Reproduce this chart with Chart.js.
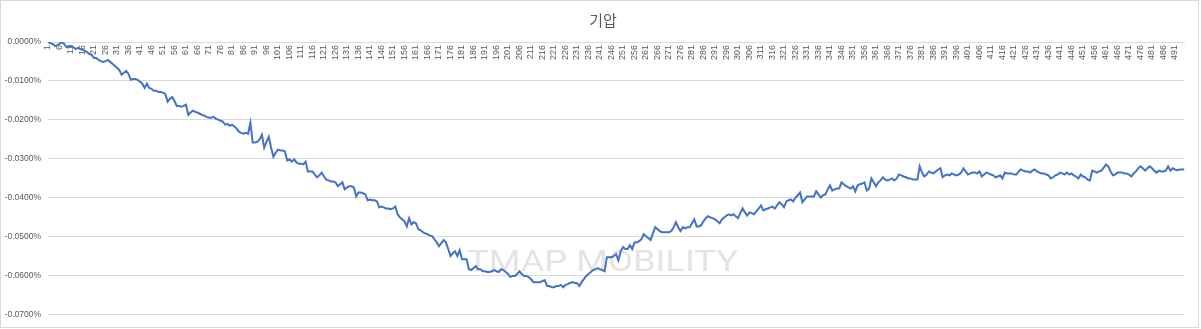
<!DOCTYPE html>
<html>
<head>
<meta charset="utf-8">
<script src="https://cdn.jsdelivr.net/npm/chart.js@4.4.1/dist/chart.umd.min.js"></script>
<style>
    body { margin: 0; background: #fff; }
    #wrap { position: absolute; left: 0; top: 0; width: 1197px; height: 326px; border: 1px solid #d9d9d9; }
    #pressureChart { display: block; }
</style>
</head>
<body>
<div id="wrap"><canvas id="pressureChart" width="1197" height="326"></canvas></div>
<script>
// 기압 변화율 (%), 1 ~ 495
const pressure = [
    0, -0.0003, -0.0005, -0.0010, -0.0008, -0.0005, 0.0000, -0.0005, -0.0013, -0.0010,
    -0.0010, -0.0013, -0.0018, -0.0015, -0.0018, -0.0020, -0.0023, -0.0026, -0.0031, -0.0033,
    -0.0041, -0.0041, -0.0046, -0.0049, -0.0051, -0.0049, -0.0046, -0.0051, -0.0056, -0.0061,
    -0.0066, -0.0072, -0.0084, -0.0079, -0.0074, -0.0082, -0.0097, -0.0095, -0.0095, -0.0097,
    -0.0102, -0.0107, -0.0118, -0.0107, -0.0118, -0.0120, -0.0125, -0.0125, -0.0128, -0.0128,
    -0.0130, -0.0133, -0.0153, -0.0146, -0.0141, -0.0151, -0.0164, -0.0164, -0.0166, -0.0164,
    -0.0161, -0.0187, -0.0181, -0.0176, -0.0179, -0.0181, -0.0184, -0.0187, -0.0189, -0.0192,
    -0.0194, -0.0194, -0.0192, -0.0197, -0.0199, -0.0202, -0.0204, -0.0212, -0.0210, -0.0215,
    -0.0212, -0.0217, -0.0222, -0.0230, -0.0233, -0.0235, -0.0233, -0.0235, -0.0207, -0.0258,
    -0.0258, -0.0256, -0.0250, -0.0238, -0.0271, -0.0256, -0.0243, -0.0271, -0.0294, -0.0284,
    -0.0276, -0.0278, -0.0278, -0.0281, -0.0304, -0.0301, -0.0307, -0.0301, -0.0309, -0.0312,
    -0.0312, -0.0314, -0.0307, -0.0332, -0.0332, -0.0332, -0.0340, -0.0347, -0.0342, -0.0335,
    -0.0345, -0.0353, -0.0355, -0.0358, -0.0358, -0.0360, -0.0370, -0.0365, -0.0360, -0.0378,
    -0.0373, -0.0370, -0.0370, -0.0373, -0.0396, -0.0386, -0.0386, -0.0388, -0.0391, -0.0406,
    -0.0404, -0.0406, -0.0406, -0.0409, -0.0424, -0.0422, -0.0424, -0.0427, -0.0427, -0.0429,
    -0.0427, -0.0422, -0.0442, -0.0450, -0.0455, -0.0460, -0.0473, -0.0452, -0.0468, -0.0462,
    -0.0465, -0.0480, -0.0483, -0.0488, -0.0491, -0.0493, -0.0496, -0.0498, -0.0506, -0.0514,
    -0.0524, -0.0516, -0.0508, -0.0514, -0.0531, -0.0549, -0.0542, -0.0537, -0.0549, -0.0534,
    -0.0557, -0.0557, -0.0557, -0.0583, -0.0585, -0.0580, -0.0575, -0.0583, -0.0583, -0.0588,
    -0.0588, -0.0590, -0.0590, -0.0588, -0.0585, -0.0588, -0.0590, -0.0583, -0.0585, -0.0590,
    -0.0595, -0.0603, -0.0600, -0.0600, -0.0595, -0.0588, -0.0595, -0.0600, -0.0600, -0.0603,
    -0.0608, -0.0616, -0.0616, -0.0616, -0.0616, -0.0613, -0.0611, -0.0626, -0.0626, -0.0629,
    -0.0629, -0.0626, -0.0626, -0.0623, -0.0629, -0.0623, -0.0621, -0.0618, -0.0616, -0.0618,
    -0.0618, -0.0626, -0.0616, -0.0608, -0.0600, -0.0595, -0.0590, -0.0585, -0.0583, -0.0580,
    -0.0583, -0.0585, -0.0588, -0.0552, -0.0552, -0.0552, -0.0549, -0.0544, -0.0560, -0.0537,
    -0.0526, -0.0531, -0.0531, -0.0521, -0.0531, -0.0514, -0.0514, -0.0511, -0.0506, -0.0493,
    -0.0498, -0.0503, -0.0508, -0.0491, -0.0475, -0.0480, -0.0485, -0.0488, -0.0488, -0.0488,
    -0.0488, -0.0485, -0.0475, -0.0462, -0.0475, -0.0485, -0.0475, -0.0478, -0.0475, -0.0475,
    -0.0465, -0.0455, -0.0473, -0.0473, -0.0470, -0.0460, -0.0452, -0.0447, -0.0450, -0.0452,
    -0.0455, -0.0460, -0.0465, -0.0455, -0.0450, -0.0445, -0.0442, -0.0445, -0.0442, -0.0447,
    -0.0452, -0.0439, -0.0427, -0.0437, -0.0445, -0.0437, -0.0439, -0.0442, -0.0434, -0.0427,
    -0.0419, -0.0432, -0.0429, -0.0427, -0.0424, -0.0422, -0.0427, -0.0419, -0.0411, -0.0416,
    -0.0424, -0.0409, -0.0406, -0.0404, -0.0409, -0.0399, -0.0393, -0.0386, -0.0411, -0.0404,
    -0.0396, -0.0396, -0.0396, -0.0396, -0.0383, -0.0391, -0.0399, -0.0393, -0.0391, -0.0378,
    -0.0368, -0.0381, -0.0378, -0.0376, -0.0376, -0.0360, -0.0365, -0.0370, -0.0373, -0.0376,
    -0.0370, -0.0383, -0.0368, -0.0365, -0.0363, -0.0360, -0.0381, -0.0376, -0.0350, -0.0360,
    -0.0370, -0.0360, -0.0355, -0.0347, -0.0353, -0.0355, -0.0353, -0.0350, -0.0355, -0.0350,
    -0.0340, -0.0342, -0.0345, -0.0347, -0.0350, -0.0350, -0.0353, -0.0353, -0.0353, -0.0319,
    -0.0335, -0.0345, -0.0340, -0.0332, -0.0335, -0.0337, -0.0332, -0.0327, -0.0324, -0.0347,
    -0.0342, -0.0340, -0.0342, -0.0337, -0.0340, -0.0342, -0.0340, -0.0335, -0.0324, -0.0332,
    -0.0340, -0.0337, -0.0335, -0.0335, -0.0337, -0.0332, -0.0345, -0.0340, -0.0335, -0.0337,
    -0.0340, -0.0342, -0.0347, -0.0345, -0.0342, -0.0350, -0.0335, -0.0337, -0.0337, -0.0337,
    -0.0340, -0.0340, -0.0332, -0.0327, -0.0330, -0.0332, -0.0332, -0.0335, -0.0330, -0.0327,
    -0.0332, -0.0335, -0.0337, -0.0337, -0.0340, -0.0342, -0.0350, -0.0347, -0.0342, -0.0340,
    -0.0335, -0.0337, -0.0340, -0.0335, -0.0340, -0.0337, -0.0342, -0.0345, -0.0350, -0.0340,
    -0.0345, -0.0347, -0.0353, -0.0355, -0.0330, -0.0332, -0.0335, -0.0332, -0.0330, -0.0322,
    -0.0314, -0.0319, -0.0332, -0.0342, -0.0340, -0.0335, -0.0335, -0.0335, -0.0337, -0.0337,
    -0.0340, -0.0345, -0.0337, -0.0332, -0.0324, -0.0319, -0.0324, -0.0330, -0.0324, -0.0319,
    -0.0324, -0.0330, -0.0335, -0.0330, -0.0332, -0.0332, -0.0330, -0.0319, -0.0330, -0.0324,
    -0.0327, -0.0329, -0.0327, -0.0327, -0.0327
];

// 가로축 라벨: 1, 2, 3 ... (5개마다 표시)
const sampleLabels = pressure.map((v, i) => String(i + 1));

// 세로축 눈금 (%)
const yTicks = [0, -0.01, -0.02, -0.03, -0.04, -0.05, -0.06, -0.07];

const chartTitle = '기압';
const watermark = 'TMAP MOBILITY';

// 제목 + 워터마크 (선 뒤에 깔림)
const decorPlugin = {
    id: 'decor',
    beforeDatasetsDraw(chart) {
        const c = chart.ctx;
        c.save();
        c.font = '400 30px Roboto';
        c.fillStyle = '#e4e4e4';
        c.textBaseline = 'middle';
        const w = c.measureText(watermark).width;
        const target = 271;
        c.translate(466, 262);
        c.scale(target / w, 1);
        c.fillText(watermark, 0, 0);
        c.restore();
    },
    afterDraw(chart) {
        const c = chart.ctx;
        c.save();
        c.font = "15px 'Noto Sans CJK KR', 'Noto Sans', sans-serif";
        c.fillStyle = '#595959';
        c.textAlign = 'center';
        c.textBaseline = 'middle';
        c.fillText(chartTitle, 602, 19);
        c.restore();
    }
};

const ctx = document.getElementById('pressureChart').getContext('2d');
new Chart(ctx, {
    type: 'line',
    data: {
        labels: sampleLabels,
        datasets: [{
            label: chartTitle,
            data: pressure,
            borderColor: '#4472c4',
            borderWidth: 2,
            pointRadius: 0,
            tension: 0,
            fill: false
        }]
    },
    options: {
        responsive: false,
        animation: false,
        layout: { padding: { left: 0, right: 10, top: 41, bottom: 11 } },
        plugins: {
            legend: { display: false },
            tooltip: { enabled: false },
            title: { display: false }
        },
        scales: {
            x: {
                position: { y: 0 },
                grid: { display: false, drawTicks: false },
                border: { display: true, color: '#d9d9d9' },
                ticks: {
                    autoSkip: false,
                    minRotation: 90,
                    maxRotation: 90,
                    padding: 3,
                    color: '#595959',
                    font: { family: "'Liberation Sans', sans-serif", size: 9 },
                    callback: function (val, i) {
                        return i % 5 === 0 ? sampleLabels[i] : '';
                    }
                }
            },
            y: {
                min: yTicks[yTicks.length - 1],
                max: yTicks[0],
                afterFit: function (s) { s.width = 47; },
                afterBuildTicks: function (s) { s.ticks = yTicks.map(v => ({ value: v })); },
                grid: { color: '#d9d9d9', drawTicks: false },
                border: { display: false },
                ticks: {
                    autoSkip: false,
                    padding: 7,
                    color: '#595959',
                    font: { family: "'Liberation Sans', sans-serif", size: 8.5 },
                    callback: function (v) { return v.toFixed(4) + '%'; }
                }
            }
        }
    },
    plugins: [decorPlugin]
});
</script>
</body>
</html>
